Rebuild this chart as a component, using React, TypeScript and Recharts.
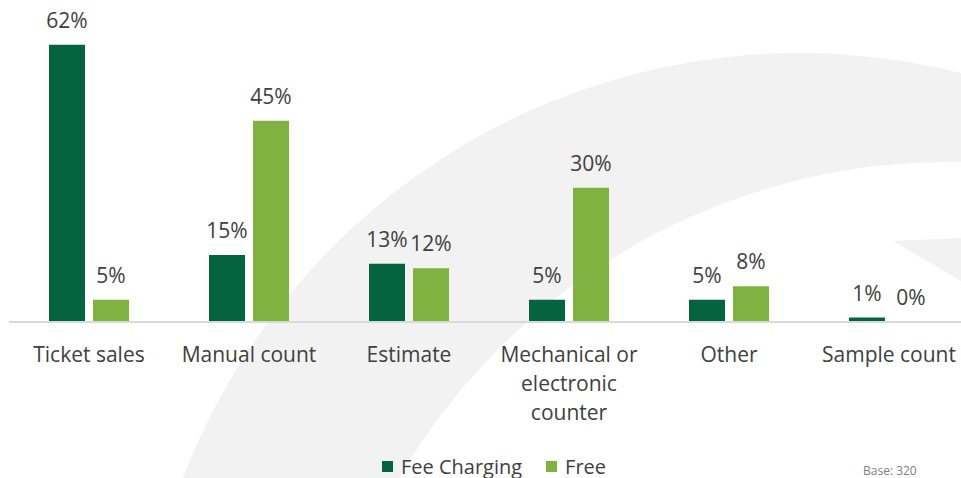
import { Bar, BarChart, LabelList, Legend, XAxis, YAxis } from "recharts";

const categories = [
  "Ticket sales",
  "Manual count",
  "Estimate",
  "Mechanical or electronic counter",
  "Other",
  "Sample count",
];
const feeCharging = [62, 15, 13, 5, 5, 1];
const free = [5, 45, 12, 30, 8, 0];
const seriesNames = ["Fee Charging", "Free"];
const baseNote = "Base: 320";

const data = categories.map((name, i) => ({
  name,
  fee: feeCharging[i],
  free: free[i],
}));

const DARK = "#03643f";
const LIGHT = "#80b241";
const TEXT = "#404040";
const FONT = "'Open Sans', 'Noto Sans', sans-serif";

// wrap words so no line is longer than maxChars
const wrapWords = (s: string, maxChars: number) => {
  const lines: string[] = [];
  let cur = "";
  s.split(" ").forEach((w) => {
    const next = cur ? cur + " " + w : w;
    if (next.length > maxChars && cur) {
      lines.push(cur);
      cur = w;
    } else {
      cur = next;
    }
  });
  if (cur) lines.push(cur);
  return lines;
};

const CategoryTick = (props: any) => {
  const { x, y, payload } = props;
  const lines = wrapWords(String(payload.value), 13);
  return (
    <text
      x={x}
      y={y}
      textAnchor="middle"
      fill={TEXT}
      fontSize={21}
      fontFamily={FONT}
    >
      {lines.map((l, i) => (
        <tspan key={i} x={x} y={y + 40 + i * 29}>
          {l}
        </tspan>
      ))}
    </text>
  );
};

const LegendContent = () => (
  <div
    style={{
      display: "flex",
      justifyContent: "center",
      alignItems: "center",
      height: 24,
      paddingLeft: 10,
      fontSize: 20,
      color: TEXT,
      fontFamily: FONT,
    }}
  >
    {seriesNames.map((n, i) => (
      <div
        key={n}
        style={{ display: "flex", alignItems: "center", marginRight: i === 0 ? 24 : 0 }}
      >
        <span
          style={{
            display: "inline-block",
            width: 11,
            height: 11,
            background: i === 0 ? DARK : LIGHT,
            marginRight: 8,
          }}
        />
        <span>{n}</span>
      </div>
    ))}
  </div>
);

const App = () => {
  return (
    <div
      style={{
        position: "absolute",
        left: 0,
        top: 0,
        width: 961,
        height: 478,
        overflow: "hidden",
        fontFamily: FONT,
        background: "#fff",
      }}
    >
      {/* faint background swoosh */}
      <svg width={961} height={478} style={{ position: "absolute", left: 0, top: 0 }}>
        <path
          d="M 183 478 A 660 660 0 0 1 961 73 L 961 162 A 638 638 0 0 0 399 478 Z"
          fill="#f2f2f2"
        />
        <path d="M 893 241 L 961 238 L 961 281 Z" fill="#f2f2f2" />
        <text x={863} y={475} fontSize={12} fill="#808080" fontFamily={FONT}>
          {baseNote}
        </text>
      </svg>
      <div style={{ position: "absolute", left: 0, top: 0 }}>
        <BarChart
          width={980}
          height={478}
          data={data}
          margin={{ top: 9, right: 11, left: 9, bottom: 0 }}
          barCategoryGap="25%"
          barGap={8}
        >
          <XAxis
            dataKey="name"
            axisLine={{ stroke: "#d9d9d9", strokeWidth: 2 }}
            tickLine={false}
            tickSize={0}
            tickMargin={0}
            height={132}
            interval={0}
            tick={<CategoryTick />}
          />
          <YAxis hide domain={[0, 70]} />
          <Legend
            verticalAlign="bottom"
            content={<LegendContent />}
            wrapperStyle={{ height: 24 }}
          />
          <Bar
            dataKey="fee"
            name={seriesNames[0]}
            fill={DARK}
            minPointSize={0.01}
            isAnimationActive={false}
          >
            <LabelList
              dataKey="fee"
              position="top"
              offset={17}
              formatter={(v: any) => `${v}%`}
              style={{ fontSize: 21, fill: TEXT, fontFamily: FONT }}
            />
          </Bar>
          <Bar
            dataKey="free"
            name={seriesNames[1]}
            fill={LIGHT}
            minPointSize={0.01}
            isAnimationActive={false}
          >
            <LabelList
              dataKey="free"
              position="top"
              offset={17}
              formatter={(v: any) => `${v}%`}
              style={{ fontSize: 21, fill: TEXT, fontFamily: FONT }}
            />
          </Bar>
        </BarChart>
      </div>
    </div>
  );
};

export default App;
